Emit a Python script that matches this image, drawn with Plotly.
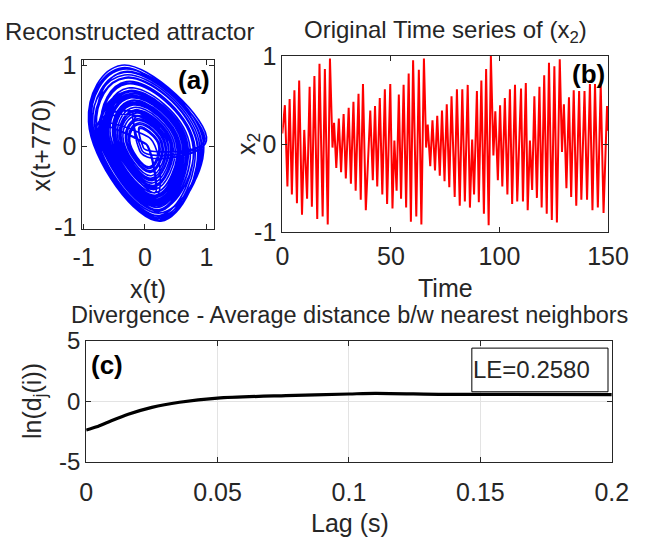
import plotly.graph_objects as go

# ---------------- Panel (b): original time series of x2 (extrema)
t_vals = [
    0, 1.17, 2.34, 3.36, 4.39, 5.56, 6.73, 7.75, 9.06, 10.09, 11.40, 12.57, 13.60, 14.77, 16.08, 17.11, 18.57, 19.59, 20.91, 21.93, 23.10, 23.83, 24.85, 26.02, 27.05, 28.22, 29.24, 30.56, 31.58, 32.75, 33.77, 35.09, 36.11, 37.14, 38.45,
    40.50, 41.67, 42.69, 43.71, 44.88, 46.05, 47.22, 48.25, 49.71, 50.73, 51.61, 52.63, 53.65, 54.68, 55.85, 57.02, 58.19, 59.21, 60.23, 61.70, 62.87, 64.04, 65.21, 66.23, 66.96, 68.13, 69.15, 70.32, 71.35, 72.52, 73.54, 74.71, 75.73, 76.90, 77.93,
    79.39, 80.41, 81.72, 82.89, 84.07, 85.38, 86.40, 87.43, 88.30, 89.62, 90.50, 91.67, 92.84, 93.86, 95.03, 96.05, 97.22, 98.10, 99.27, 100.29, 101.32, 102.49, 103.66, 104.82, 105.85, 107.16, 108.19, 109.94, 110.82, 112.14, 113.01,
    114.04, 115.06, 116.08, 117.25, 118.42, 119.44, 120.61, 121.78, 122.81, 124.12, 125.29, 126.46, 127.78, 128.80, 129.68, 130.85, 132.02, 133.04, 134.21, 135.38, 136.70, 137.72, 139.18, 140.35, 141.67, 142.84, 144.01, 145.32, 146.64, 147.95, 149.56, 150,
]
x2_vals = [
    0.12, 0.44, -0.48, 0.51, -0.57, 0.61, -0.67, 0.72, -0.80, 0.16, -0.62, 0.65, -0.71, 0.77, -0.85, 0.91, -0.82, 0.85, -0.91, 0.97, -0.04, 0.24, -0.27, 0.29, -0.32, 0.34, -0.39, 0.41, -0.45, 0.48, -0.53, 0.57, -0.63, 0.68, -0.75,
    0.38, -0.41, 0.43, -0.48, 0.52, -0.57, 0.62, -0.68, 0.68, -0.73, 0.04, -0.53, 0.56, -0.62, 0.67, -0.72, 0.80, -0.88, 0.95, -0.82, 0.84, -0.91, 0.97, -0.04, 0.22, -0.25, 0.27, -0.30, 0.32, -0.36, 0.38, -0.42, 0.45, -0.49, 0.54,
    -0.60, 0.62, -0.70, 0.62, -0.65, 0.67, -0.72, 0.05, -0.57, 0.60, -0.66, 0.72, -0.79, 0.85, -0.92, 1.00, -0.13, 0.37, -0.41, 0.44, -0.48, 0.52, -0.57, 0.62, -0.68, 0.67, -0.65, 0.63, -0.65, 0.69, -0.75,
    0.04, -0.52, 0.54, -0.61, 0.65, -0.72, 0.78, -0.79, 0.92, -0.86, 0.88, -0.89, 0.96, -0.09, 0.45, -0.50, 0.53, -0.60, 0.61, -0.70, 0.60, -0.63, 0.60, -0.63, 0.68, -0.75, 0.68, -0.72, 0.68, -0.78, 0.43, 0.15,
]
assert len(t_vals) == len(x2_vals), (len(t_vals), len(x2_vals))

# ---------------- Panel (a): delay embedding built from the same extrema
# loop-shape factors of the embedded orbit (where each extreme sits on the loop)
TOP_X, RIGHT_Y, BOTTOM_X, LEFT_Y = -0.38, 0.07, 0.28, 0.33
emb_x, emb_y = [], []
for v in x2_vals[1:-1]:
    if v > 0:
        emb_x += [TOP_X * v, v]
        emb_y += [v, RIGHT_Y * v]
    else:
        a = -v
        emb_x += [BOTTOM_X * a, v]
        emb_y += [v, LEFT_Y * a]

# ---------------- Panel (c): divergence curve
lag_vals = [0, 0.004, 0.0085, 0.016, 0.025, 0.0355, 0.05, 0.076, 0.1, 0.11, 0.136, 0.16, 0.2]
lnd_vals = [-2.37, -2.1, -1.7, -1.07, -0.5, -0.08, 0.26, 0.47, 0.6, 0.65, 0.57, 0.56, 0.55]
le_text = "LE=0.2580"

W, H = 649, 551
FONT = "Liberation Sans, Arial, Helvetica, sans-serif"
TXT = "#262626"


def px(x):
    return x / W


def py(y):
    return 1 - y / H


fig = go.Figure()
fig.add_trace(go.Scatter(x=emb_x, y=emb_y, mode="lines", xaxis="x", yaxis="y",
                         line=dict(color="#0000ff", width=1.6, shape="spline", smoothing=1.3)))
fig.add_trace(go.Scatter(x=t_vals, y=x2_vals, mode="lines", xaxis="x2", yaxis="y2",
                         line=dict(color="#ff0000", width=2)))
fig.add_trace(go.Scatter(x=lag_vals, y=lnd_vals, mode="lines", xaxis="x3", yaxis="y3",
                         line=dict(color="#000000", width=3.2, shape="spline", smoothing=0.8)))

axis_common = dict(showline=True, linecolor=TXT, linewidth=1, mirror="ticks", ticks="inside",
                   ticklen=5, tickcolor=TXT, zeroline=False, showgrid=False,
                   tickfont=dict(family=FONT, size=25, color=TXT))
ax3_common = {**axis_common, "showgrid": True, "gridcolor": "#e3e3e3"}

fig.update_layout(
    width=W, height=H, margin=dict(l=0, r=0, t=0, b=0),
    paper_bgcolor="white", plot_bgcolor="white", showlegend=False,
    xaxis=dict(domain=[px(76), px(214)], range=[-1.02, 1.12], tickvals=[-1, 0, 1], ticktext=["-1", "0", "1"],
               anchor="y", ticklabelstandoff=6, **axis_common),
    yaxis=dict(domain=[py(226), py(48)], range=[-1.01, 1.07], tickvals=[-1, 0, 1], ticktext=["-1", "0", "1"],
               anchor="x", **axis_common),
    xaxis2=dict(domain=[px(286), px(628)], range=[0, 150], tickvals=[0, 50, 100, 150], anchor="y2",
                ticklabelstandoff=2, **axis_common),
    yaxis2=dict(domain=[py(230), py(44)], range=[-1, 1], tickvals=[-1, 0, 1], ticktext=["-1", "0", "1"],
                anchor="x2", **axis_common),
    xaxis3=dict(domain=[px(80), px(632)], range=[0, 0.2], tickvals=[0, 0.05, 0.1, 0.15, 0.2],
                ticktext=["0", "0.05", "0.1", "0.15", "0.2"], anchor="y3", ticklabelstandoff=8, **ax3_common),
    yaxis3=dict(domain=[py(472), py(344)], range=[-5, 5], tickvals=[-5, 0, 5], ticktext=["-5", "0", "5"],
                anchor="x3", **{**ax3_common, "tickfont": dict(family=FONT, size=24, color=TXT)}),
)


def ann(text, x, y, size=24, angle=0, bold=False, xanchor="center"):
    fig.add_annotation(text=f"<b>{text}</b>" if bold else text, x=px(x), y=py(y), xref="paper", yref="paper",
                       showarrow=False, textangle=angle, xanchor=xanchor, yanchor="middle", borderpad=0,
                       font=dict(family=FONT, size=size, color="#000000" if bold else TXT))


# titles
ann("Reconstructed attractor", 125, 18)
ann("Original Time series of (x<sub>2</sub>)", 457, 18)
ann("Divergence - Average distance b/w nearest neighbors", 357, 317, size=23.5)
# axis labels
ann("x(t)", 145, 290, size=25)
ann("x(t+770)", 33, 138, angle=-90, size=25)
ann("Time", 457, 289, size=25)
ann("x<sub>2</sub>", 250, 137, angle=-90, size=25)
ann("Lag (s)", 357, 536, size=25)
ann("ln(d<sub>j</sub>(i))", 25, 408, angle=-90, size=25)
# panel letters
ann("(a)", 193, 70, size=26, bold=True)
ann("(b)", 607, 63, size=26, bold=True)
ann("(c)", 102, 370, size=26, bold=True)

# legend box of panel (c)
fig.add_shape(type="rect", xref="paper", yref="paper", x0=px(485), x1=px(628), y0=py(398), y1=py(352),
              line=dict(color="#000000", width=1), fillcolor="white", layer="above")
ann(le_text, 548, 375, size=24)

fig.write_html("out.html")
